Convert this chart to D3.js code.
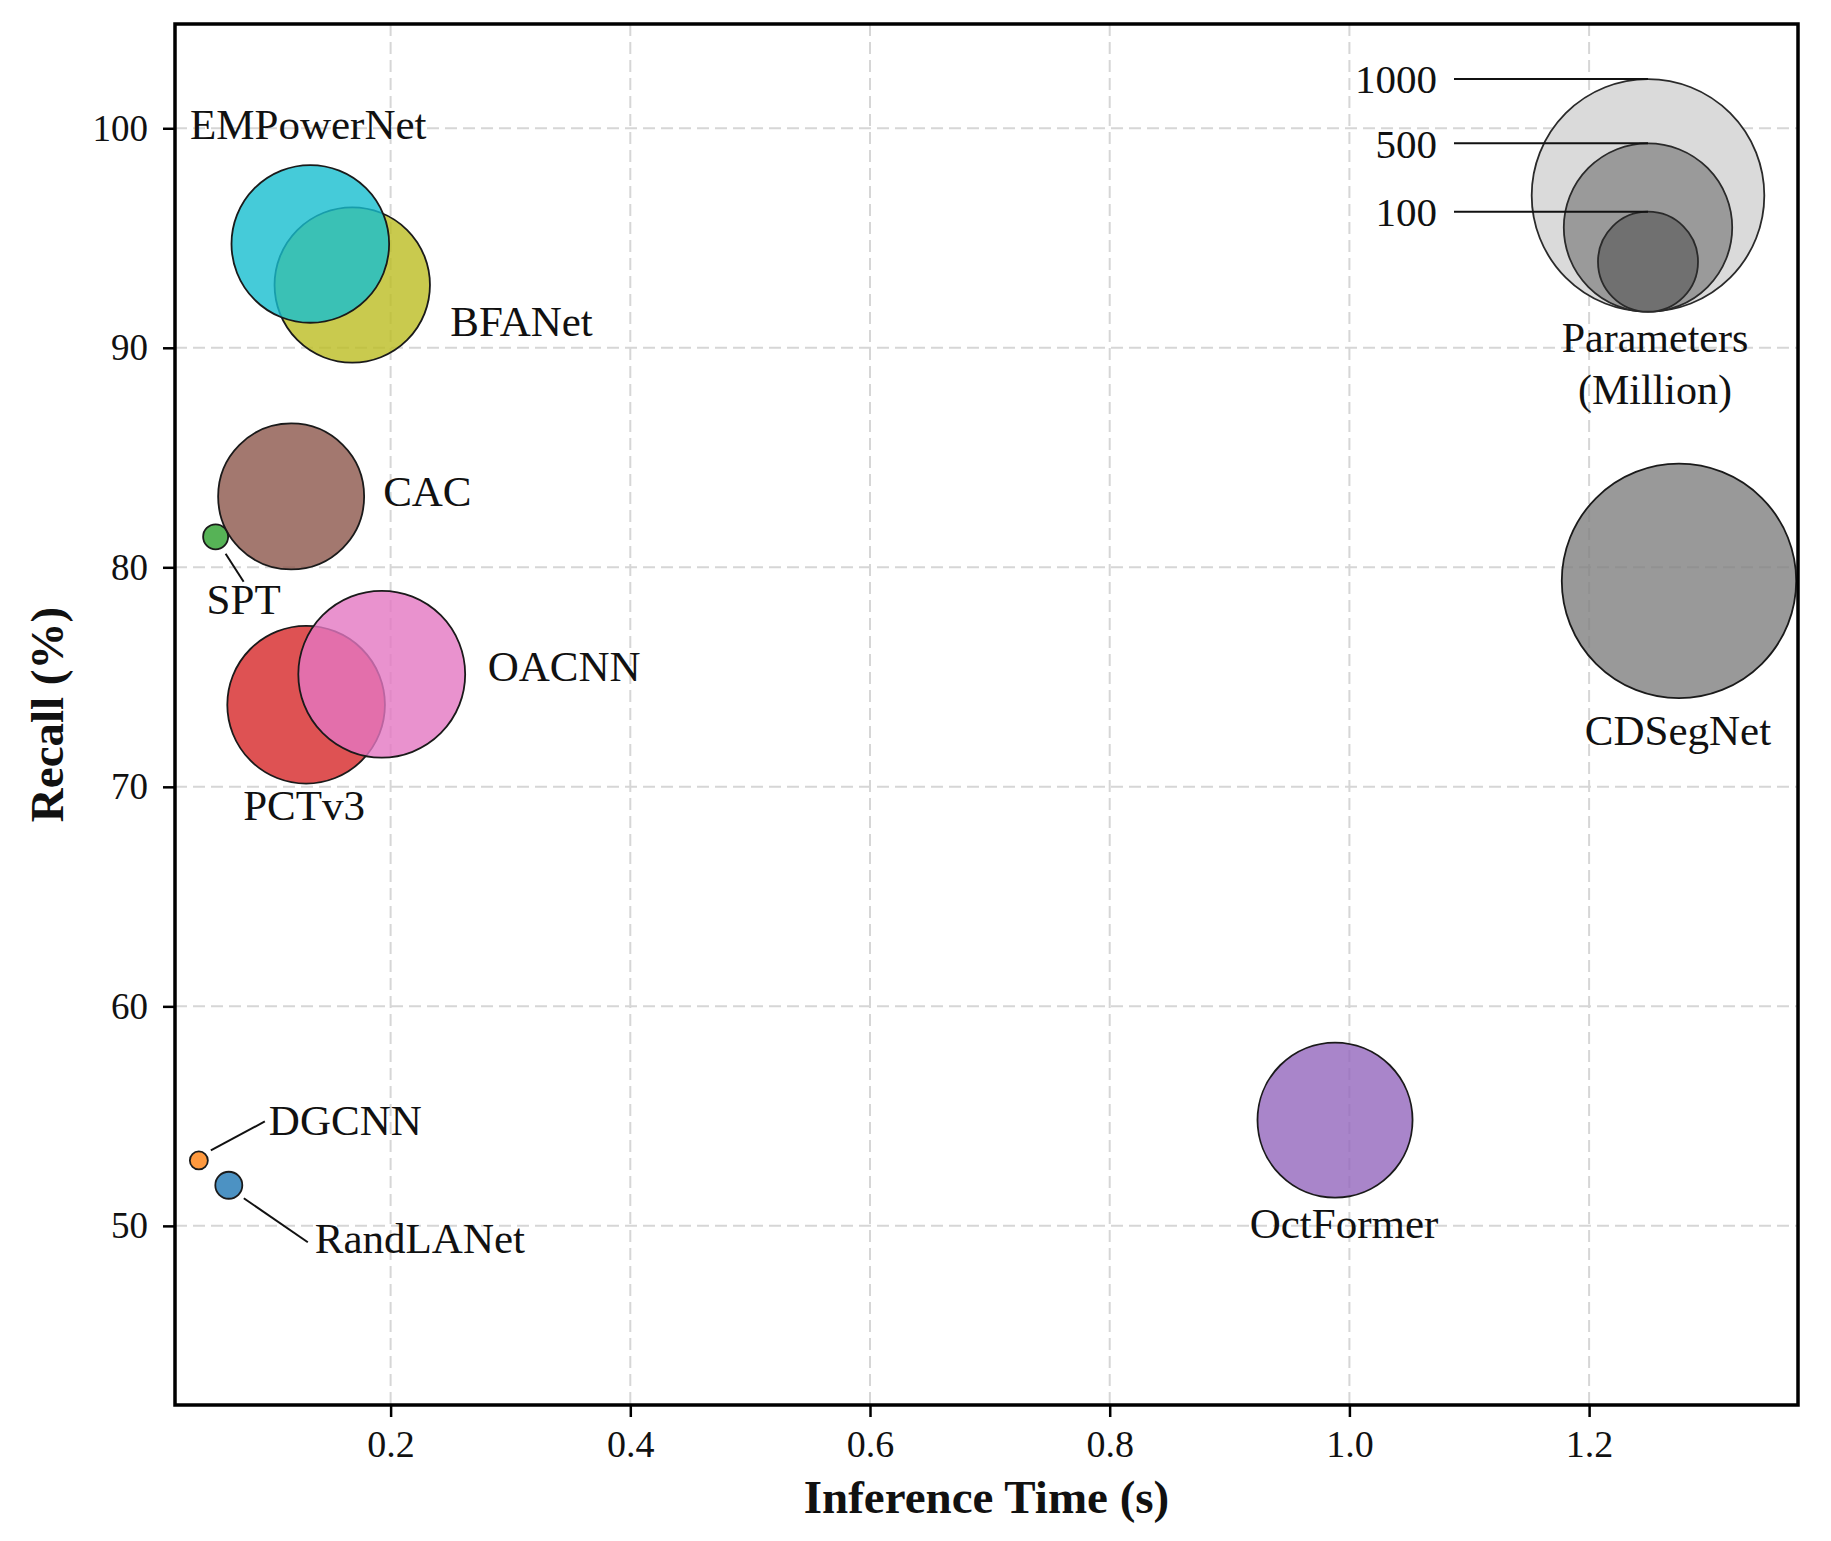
<!DOCTYPE html>
<html>
<head>
<meta charset="utf-8">
<script src="https://cdn.jsdelivr.net/npm/d3@7"></script>
<style>
    body { margin: 0; background: #fff; }
    #chart-area { width: 1831px; height: 1541px; }
    text { font-family: "Liberation Serif", "Times New Roman", serif; fill: #111; }
</style>
</head>
<body>
<div id="chart-area"></div>
<script>

// model names, drawn in this order (later ones sit on top)
const models = ["DGCNN", "RandLANet", "SPT", "PCTv3", "OACNN", "CAC", "BFANet", "EMPowerNet", "OctFormer", "CDSegNet"];
// inference time in seconds
const inferenceTime = [0.040, 0.065, 0.054, 0.1295, 0.1926, 0.117, 0.168, 0.133, 0.988, 1.275];
// recall in %
const recall = [52.98, 51.85, 81.39, 73.74, 75.13, 83.23, 92.86, 94.73, 54.82, 79.38];
// parameters in million
const params = [18, 27, 25, 437, 491, 369, 424, 437, 422, 1014];
const colors = ["#ff7f0e", "#1f77b4", "#2ca02c", "#d62728", "#e377c2", "#8c564b", "#bcbd22", "#17becf", "#9467bd", "#7f7f7f"];

const xTicks = [0.2, 0.4, 0.6, 0.8, 1.0, 1.2];
const yTicks = [50, 60, 70, 80, 90, 100];

// size legend
const legendSizes = [1000, 500, 100];
const legendFills = ["#dadada", "#9a9a9a", "#707070"];


class BubbleVis {

    constructor(parentElement) {
        this.parentElement = parentElement;
        this.initVis();
    }

    initVis() {
        let vis = this;

        vis.margin = {top: 24, right: 33, bottom: 136, left: 175};
        vis.width = 1831 - vis.margin.left - vis.margin.right;
        vis.height = 1541 - vis.margin.top - vis.margin.bottom;

        vis.svg = d3.select("#" + vis.parentElement)
            .append("svg")
            .attr("width", 1831)
            .attr("height", 1541)
            .append("g")
            .attr("transform", `translate(${vis.margin.left},${vis.margin.top})`);

        vis.x = d3.scaleLinear().domain([0.0201, 1.3743]).range([0, vis.width]);
        vis.y = d3.scaleLinear().domain([41.84, 104.75]).range([vis.height, 0]);
        // bubble radius
        vis.r = d3.scaleLinear().domain([0, 100, 500, 1000]).range([0, 50, 84.2, 116.3]);

        // grid
        vis.svg.append("g").selectAll("line.vgrid")
            .data(xTicks).enter().append("line")
            .attr("class", "vgrid")
            .attr("x1", d => vis.x(d)).attr("x2", d => vis.x(d))
            .attr("y1", 0).attr("y2", vis.height)
            .attr("stroke", "#d6d6d6").attr("stroke-width", 2)
            .attr("stroke-dasharray", "12,6");

        vis.svg.append("g").selectAll("line.hgrid")
            .data(yTicks).enter().append("line")
            .attr("class", "hgrid")
            .attr("x1", 0).attr("x2", vis.width)
            .attr("y1", d => vis.y(d)).attr("y2", d => vis.y(d))
            .attr("stroke", "#d6d6d6").attr("stroke-width", 2)
            .attr("stroke-dasharray", "12,6");

        // axes
        let xAxis = d3.axisBottom(vis.x).tickValues(xTicks).tickFormat(d3.format(".1f"))
            .tickSize(12).tickPadding(13);
        let yAxis = d3.axisLeft(vis.y).tickValues(yTicks).tickFormat(d3.format("d"))
            .tickSize(12).tickPadding(15);

        vis.svg.append("g")
            .attr("transform", `translate(0,${vis.height})`)
            .call(xAxis)
            .call(g => g.select(".domain").remove())
            .call(g => g.selectAll("line").attr("stroke", "#000").attr("stroke-width", 2.5))
            .call(g => g.selectAll("text").style("font-size", "38px")
                .style("font-family", "'Liberation Serif', serif").attr("fill", "#111"));

        vis.svg.append("g")
            .call(yAxis)
            .call(g => g.select(".domain").remove())
            .call(g => g.selectAll("line").attr("stroke", "#000").attr("stroke-width", 2.5))
            .call(g => g.selectAll("text").style("font-size", "37px")
                .style("font-family", "'Liberation Serif', serif").attr("fill", "#111"));

        // axis titles
        vis.svg.append("text")
            .attr("x", vis.width / 2)
            .attr("y", vis.height + 108)
            .attr("text-anchor", "middle")
            .style("font-size", "47px")
            .style("font-weight", "bold")
            .text("Inference Time (s)");

        vis.svg.append("text")
            .attr("transform", `translate(${63 - vis.margin.left},${vis.height / 2}) rotate(-90)`)
            .attr("text-anchor", "middle")
            .style("font-size", "47px")
            .style("font-weight", "bold")
            .text("Recall (%)");

        vis.bubbleGroup = vis.svg.append("g");
        vis.labelGroup = vis.svg.append("g");
        vis.legendGroup = vis.svg.append("g");

        // frame
        vis.svg.append("rect")
            .attr("width", vis.width).attr("height", vis.height)
            .attr("fill", "none").attr("stroke", "#000").attr("stroke-width", 3.5);

        vis.wrangleData();
    }

    wrangleData() {
        let vis = this;

        vis.displayData = models.map((m, i) => ({
            name: m,
            time: inferenceTime[i],
            recall: recall[i],
            params: params[i],
            color: colors[i]
        }));

        vis.updateVis();
    }

    updateVis() {
        let vis = this;

        vis.bubbleGroup.selectAll("circle")
            .data(vis.displayData)
            .enter().append("circle")
            .attr("cx", d => vis.x(d.time))
            .attr("cy", d => vis.y(d.recall))
            .attr("r", d => vis.r(d.params))
            .attr("fill", d => d.color)
            .attr("fill-opacity", 0.8)
            .attr("stroke", "#1a1a1a")
            .attr("stroke-width", 1.8);

        // label placement relative to bubble centre (px): text anchor, offset, optional leader line
        let labelPos = {
            "EMPowerNet": {anchor: "middle", dx: -2,  dy: -105},
            "BFANet":     {anchor: "start",  dx: 98,  dy: 51},
            "CAC":        {anchor: "start",  dx: 92,  dy: 10},
            "SPT":        {anchor: "middle", dx: 28,  dy: 77,  line: [10, 17, 28, 45]},
            "OACNN":      {anchor: "start",  dx: 106, dy: 7},
            "PCTv3":      {anchor: "middle", dx: -2,  dy: 115},
            "DGCNN":      {anchor: "start",  dx: 70,  dy: -25, line: [12, -10, 66, -39]},
            "RandLANet":  {anchor: "start",  dx: 86,  dy: 68,  line: [15, 13, 79, 57]},
            "CDSegNet":   {anchor: "middle", dx: -1,  dy: 164},
            "OctFormer":  {anchor: "middle", dx: 9,   dy: 118}
        };

        vis.displayData.forEach(d => {
            let p = labelPos[d.name];
            let cx = vis.x(d.time), cy = vis.y(d.recall);
            if (p.line) {
                vis.labelGroup.append("line")
                    .attr("x1", cx + p.line[0]).attr("y1", cy + p.line[1])
                    .attr("x2", cx + p.line[2]).attr("y2", cy + p.line[3])
                    .attr("stroke", "#111").attr("stroke-width", 2);
            }
            vis.labelGroup.append("text")
                .attr("x", cx + p.dx)
                .attr("y", cy + p.dy)
                .attr("text-anchor", p.anchor)
                .style("font-size", "43px")
                .text(d.name);
        });

        // size legend, circles share a common bottom
        let lgX = 1648 - vis.margin.left;
        let lgBottom = 311.7 - vis.margin.top;

        vis.legendGroup.selectAll("circle")
            .data(legendSizes)
            .enter().append("circle")
            .attr("cx", lgX)
            .attr("cy", d => lgBottom - vis.r(d))
            .attr("r", d => vis.r(d))
            .attr("fill", (d, i) => legendFills[i])
            .attr("stroke", "#2a2a2a")
            .attr("stroke-width", 1.8);

        vis.legendGroup.selectAll("line")
            .data(legendSizes)
            .enter().append("line")
            .attr("x1", 1454 - vis.margin.left)
            .attr("x2", lgX)
            .attr("y1", d => lgBottom - 2 * vis.r(d))
            .attr("y2", d => lgBottom - 2 * vis.r(d))
            .attr("stroke", "#111").attr("stroke-width", 2);

        vis.legendGroup.selectAll("text.size")
            .data(legendSizes)
            .enter().append("text")
            .attr("class", "size")
            .attr("x", 1437 - vis.margin.left)
            .attr("y", d => lgBottom - 2 * vis.r(d))
            .attr("dy", "0.35em")
            .attr("text-anchor", "end")
            .style("font-size", "41px")
            .text(d => d);

        vis.legendGroup.append("text")
            .attr("x", 1655 - vis.margin.left)
            .attr("y", 351.7 - vis.margin.top)
            .attr("text-anchor", "middle")
            .style("font-size", "42px")
            .text("Parameters");

        vis.legendGroup.append("text")
            .attr("x", 1655 - vis.margin.left)
            .attr("y", 404 - vis.margin.top)
            .attr("text-anchor", "middle")
            .style("font-size", "42px")
            .text("(Million)");
    }
}

new BubbleVis("chart-area");

</script>
</body>
</html>
